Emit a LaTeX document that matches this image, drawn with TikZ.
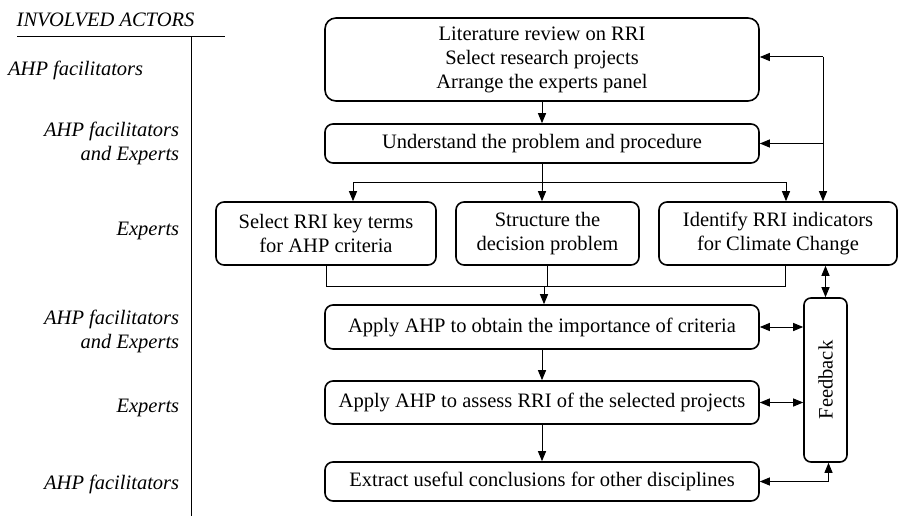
\documentclass[tikz,border=0pt]{standalone}
\usepackage{fontspec}
\setmainfont{Liberation Serif}
\usepackage{graphicx}
\usetikzlibrary{arrows.meta,positioning,calc}
\newcommand{\flowsize}{\fontsize{20.5}{24}\selectfont}

\begin{document}
\begin{tikzpicture}[x=1pt,y=-1pt,>={Triangle[length=10pt,width=8pt]},line width=1pt,
     font=\flowsize,
     stepbox/.style={draw, line width=1.6pt, rounded corners=8pt, align=center, inner sep=0pt},
     actor/.style={font=\flowsize\itshape, align=right, anchor=east}]
    \useasboundingbox (0,0) rectangle (899,516);
    % actors column
    \node[font=\flowsize\itshape] (head) at (105.5,20) {INVOLVED ACTORS};
    \draw (17,37) -- (225,37);
    \draw (191,37) -- (191,516);
    \node[actor] (a1) at (147,70) {AHP facilitators};
    \node[actor] (a2) at (183,143) {AHP facilitators\\and Experts};
    \node[actor] (a3) at (183,231) {Experts};
    \node[actor] (a4) at (183,331.5) {AHP facilitators\\and Experts};
    \node[actor] (a5) at (183,408) {Experts};
    \node[actor] (a6) at (183,484) {AHP facilitators};
    % steps
    \node[stepbox, rounded corners=11pt, minimum width=434pt, minimum height=83pt] (lit) at (542,59.5) {Literature review on RRI\\Select research projects\\Arrange the experts panel};
    \node[stepbox, minimum width=434pt, minimum height=39pt] (und) at (542,143.5) {Understand the problem and procedure};
    \node[stepbox, minimum width=220pt, minimum height=63pt] (sel) at (326,233.5) {Select RRI key terms\\for AHP criteria};
    \node[stepbox, minimum width=183pt, minimum height=63pt] (str) at (547.5,233.5) {Structure the\\decision problem};
    \node[stepbox, minimum width=238pt, minimum height=63pt] (ide) at (778,233.5) {Identify RRI indicators\\for Climate Change};
    \node[stepbox, minimum width=434pt, minimum height=44pt] (ob) at (542,327) {Apply AHP to obtain the importance of criteria};
    \node[stepbox, minimum width=434pt, minimum height=43pt] (as) at (542,402.5) {Apply AHP to assess RRI of the selected projects};
    \node[stepbox, minimum width=434pt, minimum height=39pt] (ex) at (542,481.5) {Extract useful conclusions for other disciplines};
    \node[stepbox, rounded corners=7pt, minimum width=43pt, minimum height=164pt] (fb) at (825.5,380) {\rotatebox{90}{Feedback}};
    % forward flow
    \draw[->] (lit.south) -- (und.north);
    \coordinate (bl) at (353,182);
    \coordinate (brr) at (786,182);
    \draw[->] (und.south) -- (und.south |- str.north);
    \draw (bl) -- (brr);
    \draw[->] (bl) -- (bl |- sel.north);
    \draw[->] (brr) -- (brr |- ide.north);
    \coordinate (lp) at (823,57);
    \draw[->] (lp) -- (lit.east |- lp);
    \draw[->] (lp) -- (lp |- ide.north);
    \draw[->] (lp |- und.east) -- (und.east);
    \coordinate (mg) at (544,286);
    \coordinate (mr) at (785,286);
    \draw (sel.south) -- (sel.south |- mg) -- (mr) -- (mr |- ide.south);
    \draw (str.south) -- (str.south |- mg);
    \draw[->] (mg) -- (mg |- ob.north);
    \draw[->] (ob.south) -- (as.north);
    \draw[->] (as.south) -- (ex.north);
    % feedback
    \draw[<->] (ide.south -| fb.north) -- (fb.north);
    \draw[<->] (ob.east) -- (ob.east -| fb.west);
    \draw[<->] (as.east) -- (as.east -| fb.west);
    \draw[<->] (ex.east) -| ([xshift=3pt]fb.south);
\end{tikzpicture}
\end{document}
